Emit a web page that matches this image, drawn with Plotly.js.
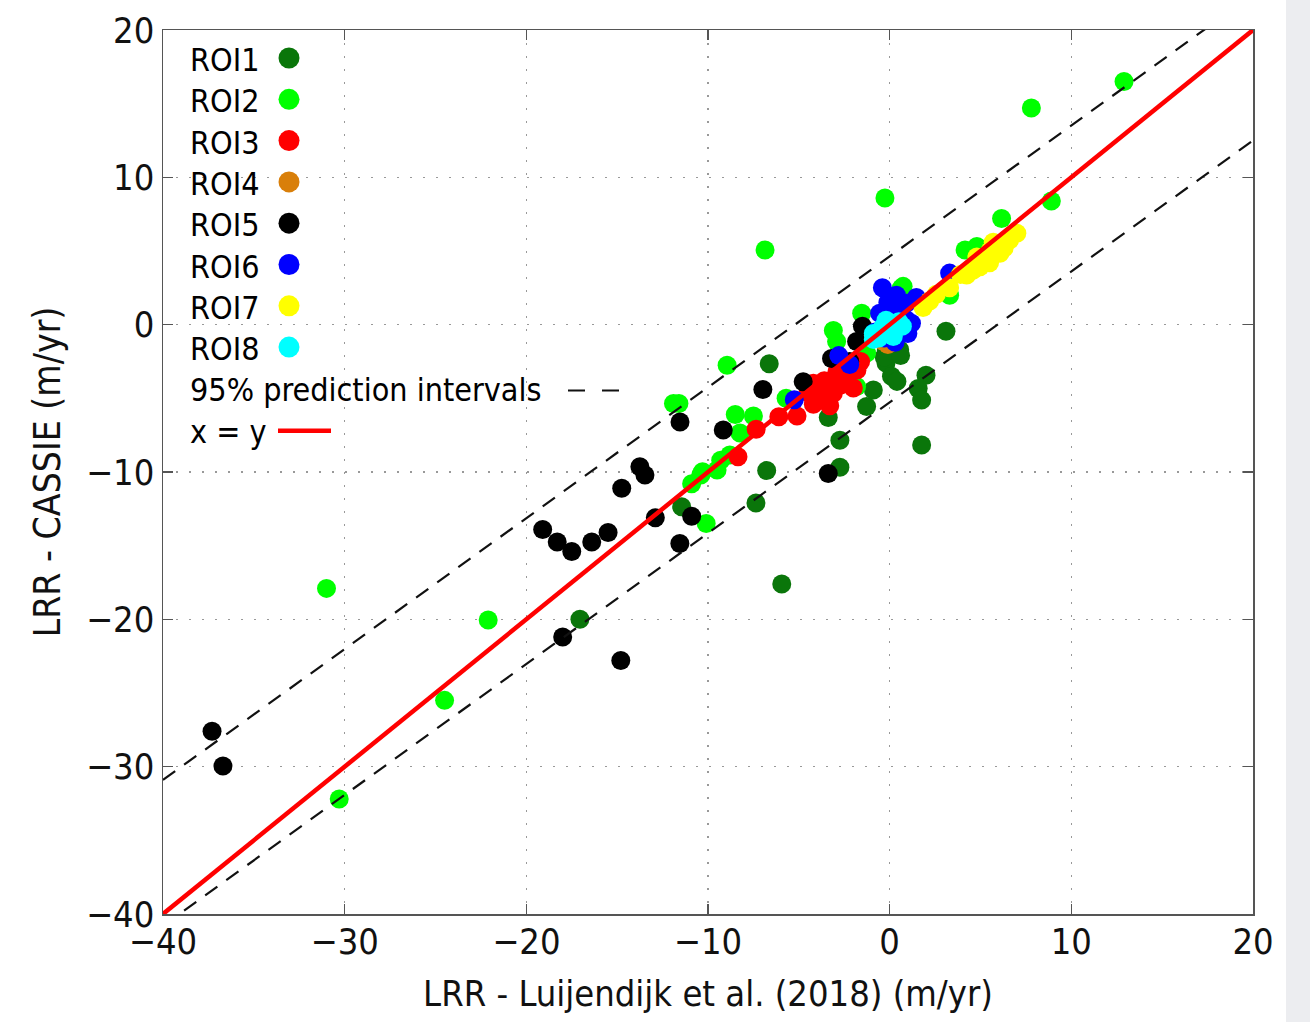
<!DOCTYPE html>
<html><head><meta charset="utf-8">
<script src="https://cdn.plot.ly/plotly-3.0.1.min.js"></script>
<style>html,body{margin:0;padding:0;background:#ecedf0;} #chart{width:1286px;height:1022px;background:#fff;}</style>
</head><body><div id="chart"></div><script>
// ---- data ----
const roiNames = ['ROI1','ROI2','ROI3','ROI4','ROI5','ROI6','ROI7','ROI8'];
const roiColors = ['#0a760a','#00ff00','#ff0000','#d97f0a','#000000','#0000ff','#ffff00','#00ffff'];

const roi1X = [-17.05,-11.45,-7.36,-6.77,-5.94,-6.63,-3.38,-2.74,-2.74,-1.27,-0.9,-0.2,0.1,0.4,0.55,-0.18,-0.3,2.0,1.57,1.76,1.76,3.1,0.6];
const roi1Y = [-20.0,-12.36,-12.1,-9.9,-17.6,-2.65,-6.3,-7.84,-9.68,-5.56,-4.43,-2.6,-3.5,-3.85,-1.7,-1.7,-2.2,-3.43,-4.33,-5.12,-8.17,-0.45,-2.1];

const roi2X = [12.9,7.8,8.9,-0.26,6.16,-6.86,-31.0,-22.1,-24.5,-30.3,-11.9,-11.6,-8.95,-8.5,-7.5,-8.24,-9.3,-10.3,-10.4,-9.5,-8.8,-10.9,-10.1,-3.1,-1.54,-2.92,-1.27,-1.82,0.64,0.74,3.3,4.15,4.8,-5.7];
const roi2Y = [16.5,14.7,8.4,8.6,7.2,5.07,-17.9,-20.05,-25.5,-32.2,-5.35,-5.35,-2.75,-6.1,-6.2,-7.35,-9.2,-9.98,-10.2,-9.86,-8.85,-10.8,-13.5,-0.4,0.77,-1.14,-1.93,-4.2,2.47,2.6,2.0,5.07,5.3,-5.0];

const roi3X = [-8.35,-7.35,-6.1,-5.1,-4.2,-3.83,-3.5,-4.2,-3.1,-2.7,-2.37,-1.8,-1.6,-3.6,-4.5,-2.9,-2.0,-3.3,-4.0];
const roi3Y = [-8.96,-7.1,-6.25,-6.2,-5.4,-5.1,-4.6,-3.98,-4.65,-4.1,-3.76,-3.08,-2.5,-3.8,-4.6,-3.2,-4.3,-5.5,-4.4];

const roi4X = [-0.1,-0.4];
const roi4Y = [-1.35,-1.1];

const roi5X = [-37.3,-36.7,-19.1,-18.3,-17.5,-16.4,-15.5,-14.75,-13.75,-13.47,-12.9,-11.54,-11.55,-10.9,-18.0,-14.8,-9.16,-6.98,-4.76,-3.38,-3.2,-2.2,-1.82,-1.5];
const roi5Y = [-27.6,-29.95,-13.9,-14.75,-15.4,-14.75,-14.1,-11.1,-9.64,-10.2,-13.1,-6.6,-14.85,-13.0,-21.2,-22.8,-7.15,-4.4,-3.87,-10.1,-2.3,-2.5,-1.14,-0.1];

const roi6X = [-5.25,-2.8,-2.2,-0.4,0.37,0.92,1.47,-0.55,0.92,0.2,-0.8,0.6,-0.3,1.2,3.3,-0.1,1.0,0.3];
const roi6Y = [-5.1,-2.1,-2.7,2.5,2.0,1.45,1.85,0.77,0.33,1.1,-0.5,-0.6,-0.9,0.1,3.5,1.5,-0.6,-1.2];

const roi7X = [1.84,2.57,3.3,3.9,4.24,4.6,4.97,5.5,5.52,6.07,5.7,6.6,7.0,4.8,2.2,6.3];
const roi7Y = [1.17,2.07,2.5,3.4,3.37,3.7,3.93,4.2,5.0,4.84,5.6,5.74,6.2,4.6,1.6,5.2];

const roi8X = [-0.9,-0.4,0.1,-0.6,0.3,-0.2,0.5,0.7,-0.9,0.2];
const roi8Y = [-0.6,-0.2,0.1,-0.9,-0.2,0.3,0.2,-0.1,-1.0,-0.8];

const lineX = [-40, 20];          // x = y line
const lineY = [-40, 20];
const piX = [-40, 20];            // 95% prediction interval end points
const piUpperY = [-30.9, 22.4];
const piLowerY = [-40.8, 12.5];

const xTicks = [-40,-30,-20,-10,0,10,20];
const yTicks = [-40,-30,-20,-10,0,10,20];
const xTitle = 'LRR - Luijendijk et al. (2018) (m/yr)';
const yTitle = 'LRR - CASSIE (m/yr)';
const piLabel = '95% prediction intervals';
const lineLabel = 'x = y';

// ---- build figure ----
const FONT = '"DejaVu Sans Condensed", "DejaVu Sans", sans-serif';
const roiX = [roi1X,roi2X,roi3X,roi4X,roi5X,roi6X,roi7X,roi8X];
const roiY = [roi1Y,roi2Y,roi3Y,roi4Y,roi5Y,roi6Y,roi7Y,roi8Y];

const traces = roiNames.map((n,i)=>({
  type:'scatter', mode:'markers', name:n, x:roiX[i], y:roiY[i],
  marker:{color:roiColors[i], size:19, line:{width:0}}, showlegend:false, cliponaxis:true
}));
traces.push({type:'scatter', mode:'lines', x:piX, y:piUpperY, line:{color:'#111', width:2.2, dash:'15px,11px'}, showlegend:false});
traces.push({type:'scatter', mode:'lines', x:piX, y:piLowerY, line:{color:'#111', width:2.2, dash:'15px,11px'}, showlegend:false});
traces.push({type:'scatter', mode:'lines', x:lineX, y:lineY, line:{color:'#ff0000', width:4.5}, showlegend:false});

// plot area in pixels: left 163, right 1253, top 30, bottom 914
const L=163, R=1253, T=30, B=914;
const px = v => (v-L)/(R-L);
const py = v => (B-v)/(B-T);

const annotations = [];
const shapes = [];
const rowY = i => 58 + i*41.3;
roiNames.forEach((n,i)=>{
  annotations.push({xref:'paper', yref:'paper', x:px(188), y:py(rowY(i)+2), xanchor:'left', yanchor:'middle',
    text:n, showarrow:false, font:{family:FONT, size:32, color:'#000'}});
  shapes.push({type:'circle', xref:'paper', yref:'paper', xsizemode:'pixel', ysizemode:'pixel',
    xanchor:px(289), yanchor:py(rowY(i)), x0:-10.5, x1:10.5, y0:-10.5, y1:10.5,
    fillcolor:roiColors[i], line:{width:0}});
});
annotations.push({xref:'paper', yref:'paper', x:px(188), y:py(rowY(8)+2), xanchor:'left', yanchor:'middle',
  text:piLabel, showarrow:false, font:{family:FONT, size:32, color:'#000'}});
shapes.push({type:'line', xref:'paper', yref:'paper', x0:px(568), x1:px(620), y0:py(rowY(8)+2), y1:py(rowY(8)+2),
  line:{color:'#111', width:2, dash:'17px,17px'}});
annotations.push({xref:'paper', yref:'paper', x:px(188), y:py(rowY(9)+2), xanchor:'left', yanchor:'middle',
  text:lineLabel, showarrow:false, font:{family:FONT, size:32, color:'#000'}});
shapes.push({type:'line', xref:'paper', yref:'paper', x0:px(278), x1:px(331), y0:py(rowY(9)+1), y1:py(rowY(9)+1),
  line:{color:'#ff0000', width:4.5}});

const axisCommon = {
  showline:true, linecolor:'#555', linewidth:1.5, mirror:'ticks',
  ticks:'inside', ticklen:10, tickwidth:1.5, tickcolor:'#555',
  showgrid:true, gridcolor:'#999', gridwidth:1.5, griddash:'2px,11px',
  zeroline:false, automargin:false,
  tickfont:{family:FONT, size:36, color:'#111'}
};

const layout = {
  width:1286, height:1022,
  margin:{l:L, r:1286-R, t:T, b:1022-B},
  paper_bgcolor:'#ffffff', plot_bgcolor:'#ffffff',
  showlegend:false,
  xaxis:Object.assign({}, axisCommon, {range:[-40,20], tickvals:xTicks, ticklabelstandoff:-5,
    title:{text:xTitle, font:{family:FONT, size:36, color:'#111'}, standoff:20}}),
  yaxis:Object.assign({}, axisCommon, {range:[-40,20], tickvals:yTicks,
    title:{text:yTitle, font:{family:FONT, size:37, color:'#111'}, standoff:14}}),
  annotations, shapes
};

Plotly.newPlot('chart', traces, layout, {displayModeBar:false, staticPlot:true});
</script></body></html>
